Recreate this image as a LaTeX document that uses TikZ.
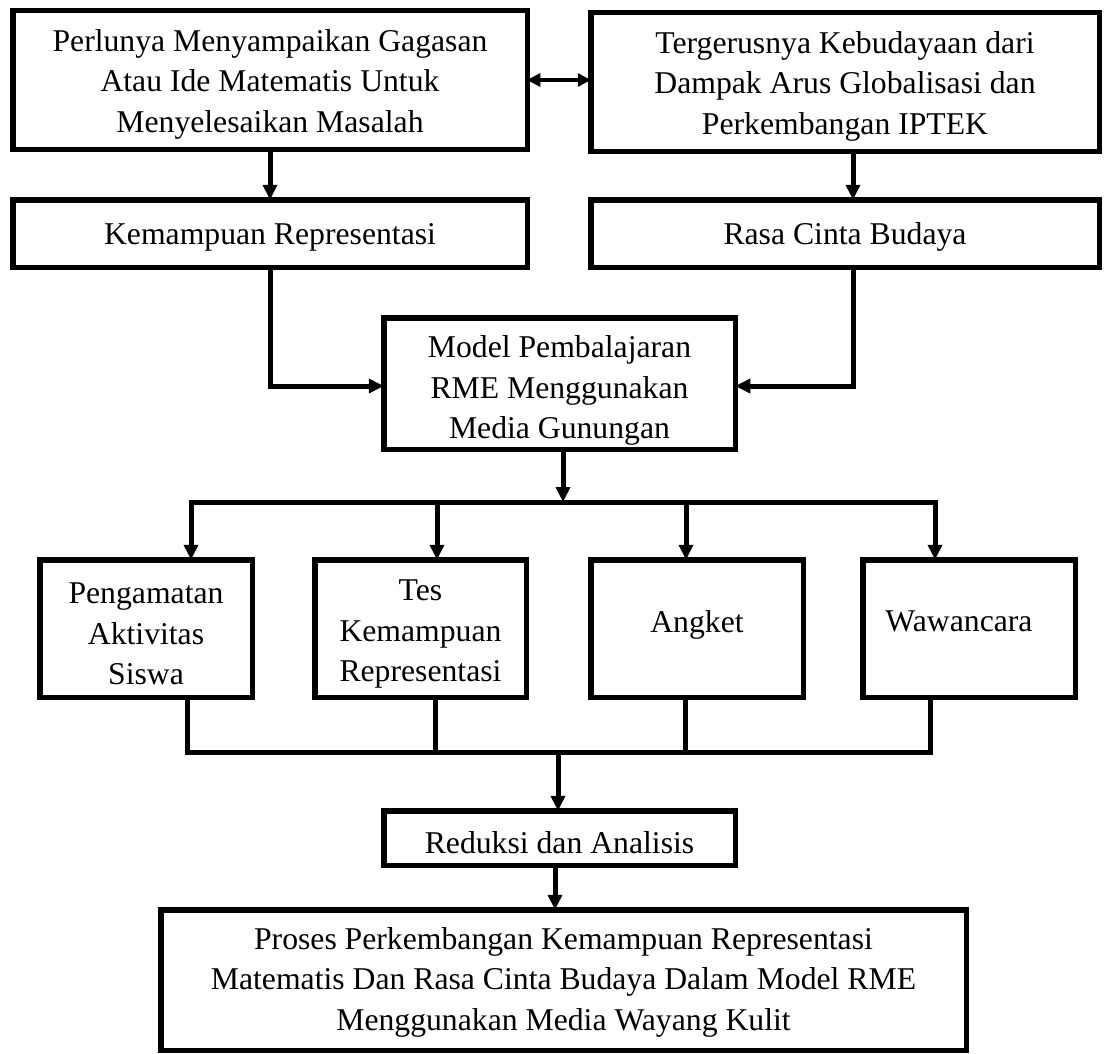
\documentclass[tikz,border=0pt]{standalone}
\usepackage{fontspec}
\setmainfont{Liberation Serif}
\usetikzlibrary{arrows.meta}
\newcommand{\lowr}[1]{\rule{0pt}{#1}}
\tikzset{
  box/.style={draw, line width=5.5pt, inner sep=0pt, outer sep=0pt, align=center,
    font=\fontsize{31.7}{40.5}\selectfont},
  conn/.style={line width=5pt},
  arr/.style={line width=5pt, -{Triangle[width=14pt,length=15pt]}},
  darr/.style={line width=3.5pt, {Triangle[width=13pt,length=13pt]}-{Triangle[width=13pt,length=13pt]}}
}
\begin{document}
\begin{tikzpicture}[x=1pt,y=-1pt]
\useasboundingbox (0,0) rectangle (1105,1054);
% top boxes
\node[box, minimum width=514.5pt, minimum height=138.5pt] (b1) at (270,80)
  {\lowr{30pt}Perlunya Menyampaikan Gagasan\\Atau Ide Matematis Untuk\\Menyelesaikan Masalah};
\node[box, minimum width=508.5pt, minimum height=138.5pt] (b2) at (845,82)
  {\lowr{30pt}Tergerusnya Kebudayaan dari\\Dampak Arus Globalisasi dan\\Perkembangan IPTEK};
\node[box, minimum width=514.5pt, minimum height=67.5pt] (b3) at (270,233.5)
  {\lowr{28pt}Kemampuan Representasi};
\node[box, minimum width=508.5pt, minimum height=67.5pt] (b4) at (845,233.5)
  {\lowr{28pt}Rasa Cinta Budaya};
% model
\node[box, minimum width=351.5pt, minimum height=131.5pt] (model) at (559.5,383.5)
  {\lowr{36pt}Model Pembalajaran\\RME Menggunakan\\Media Gunungan};
% four boxes
\node[box, minimum width=212.5pt, minimum height=137.5pt] (pA) at (146,628.5)
  {\lowr{32pt}Pengamatan\\Aktivitas\\Siswa};
\node[box, minimum width=211.5pt, minimum height=137.5pt] (pB) at (420.5,628.5)
  {\lowr{32pt}Tes\\Kemampuan\\Representasi};
\node[box, minimum width=212.5pt, minimum height=137.5pt] (pC) at (697,628.5)
  {\raisebox{15pt}{Angket}};
\node[box, minimum width=212.5pt, minimum height=137.5pt] (pD) at (969,628.5)
  {\raisebox{15pt}{Wawancara\hspace{20pt}}};
% bottom
\node[box, minimum width=351.5pt, minimum height=54.5pt] (red) at (559.5,838)
  {\lowr{32pt}Reduksi dan Analisis};
\node[box, minimum width=805.5pt, minimum height=140.5pt] (pro) at (563.5,980)
  {\lowr{26pt}Proses Perkembangan Kemampuan Representasi\\Matematis Dan Rasa Cinta Budaya Dalam Model RME\\Menggunakan Media Wayang Kulit};

% connectors top
\draw[darr] (b1.east) -- (b1.east -| b2.west);
\draw[arr] (b1.south) -- (b3.north);
\draw[arr] ([xshift=8pt]b2.south) -- ([xshift=8pt]b4.north);
\draw[arr] (b3.south) |- ([yshift=-2.5pt]model.west);
\draw[arr] ([xshift=8pt]b4.south) |- ([yshift=-2.5pt]model.east);

% branch
\coordinate (bc) at (563,502);
\coordinate (k1) at (191,502);
\coordinate (k2) at (437,502);
\coordinate (k3) at (686,502);
\coordinate (k4) at (935,502);
\draw[arr] (model.south -| bc) -- (bc);
\draw[conn] ([xshift=-2.5pt]k1) -- ([xshift=2.5pt]k4);
\draw[arr] ([yshift=2.5pt]k1) -- (k1 |- pA.north);
\draw[arr] (k2) -- (k2 |- pB.north);
\draw[arr] (k3) -- (k3 |- pC.north);
\draw[arr] ([yshift=2.5pt]k4) -- (k4 |- pD.north);

% collector
\coordinate (c1) at (187,752);
\coordinate (c2) at (435,752);
\coordinate (c3) at (685,752);
\coordinate (c4) at (930,752);
\coordinate (cc) at (558,752);
\draw[conn] (c1 |- pA.south) -- ([yshift=-2.5pt]c1);
\draw[conn] (c2 |- pB.south) -- (c2);
\draw[conn] (c3 |- pC.south) -- (c3);
\draw[conn] (c4 |- pD.south) -- ([yshift=-2.5pt]c4);
\draw[conn] ([xshift=-2.5pt]c1) -- ([xshift=2.5pt]c4);
\draw[arr] (cc) -- (cc |- red.north);
\draw[arr] ([xshift=-4.5pt]red.south) -- ([xshift=-4.5pt]red.south |- pro.north);
\end{tikzpicture}
\end{document}
